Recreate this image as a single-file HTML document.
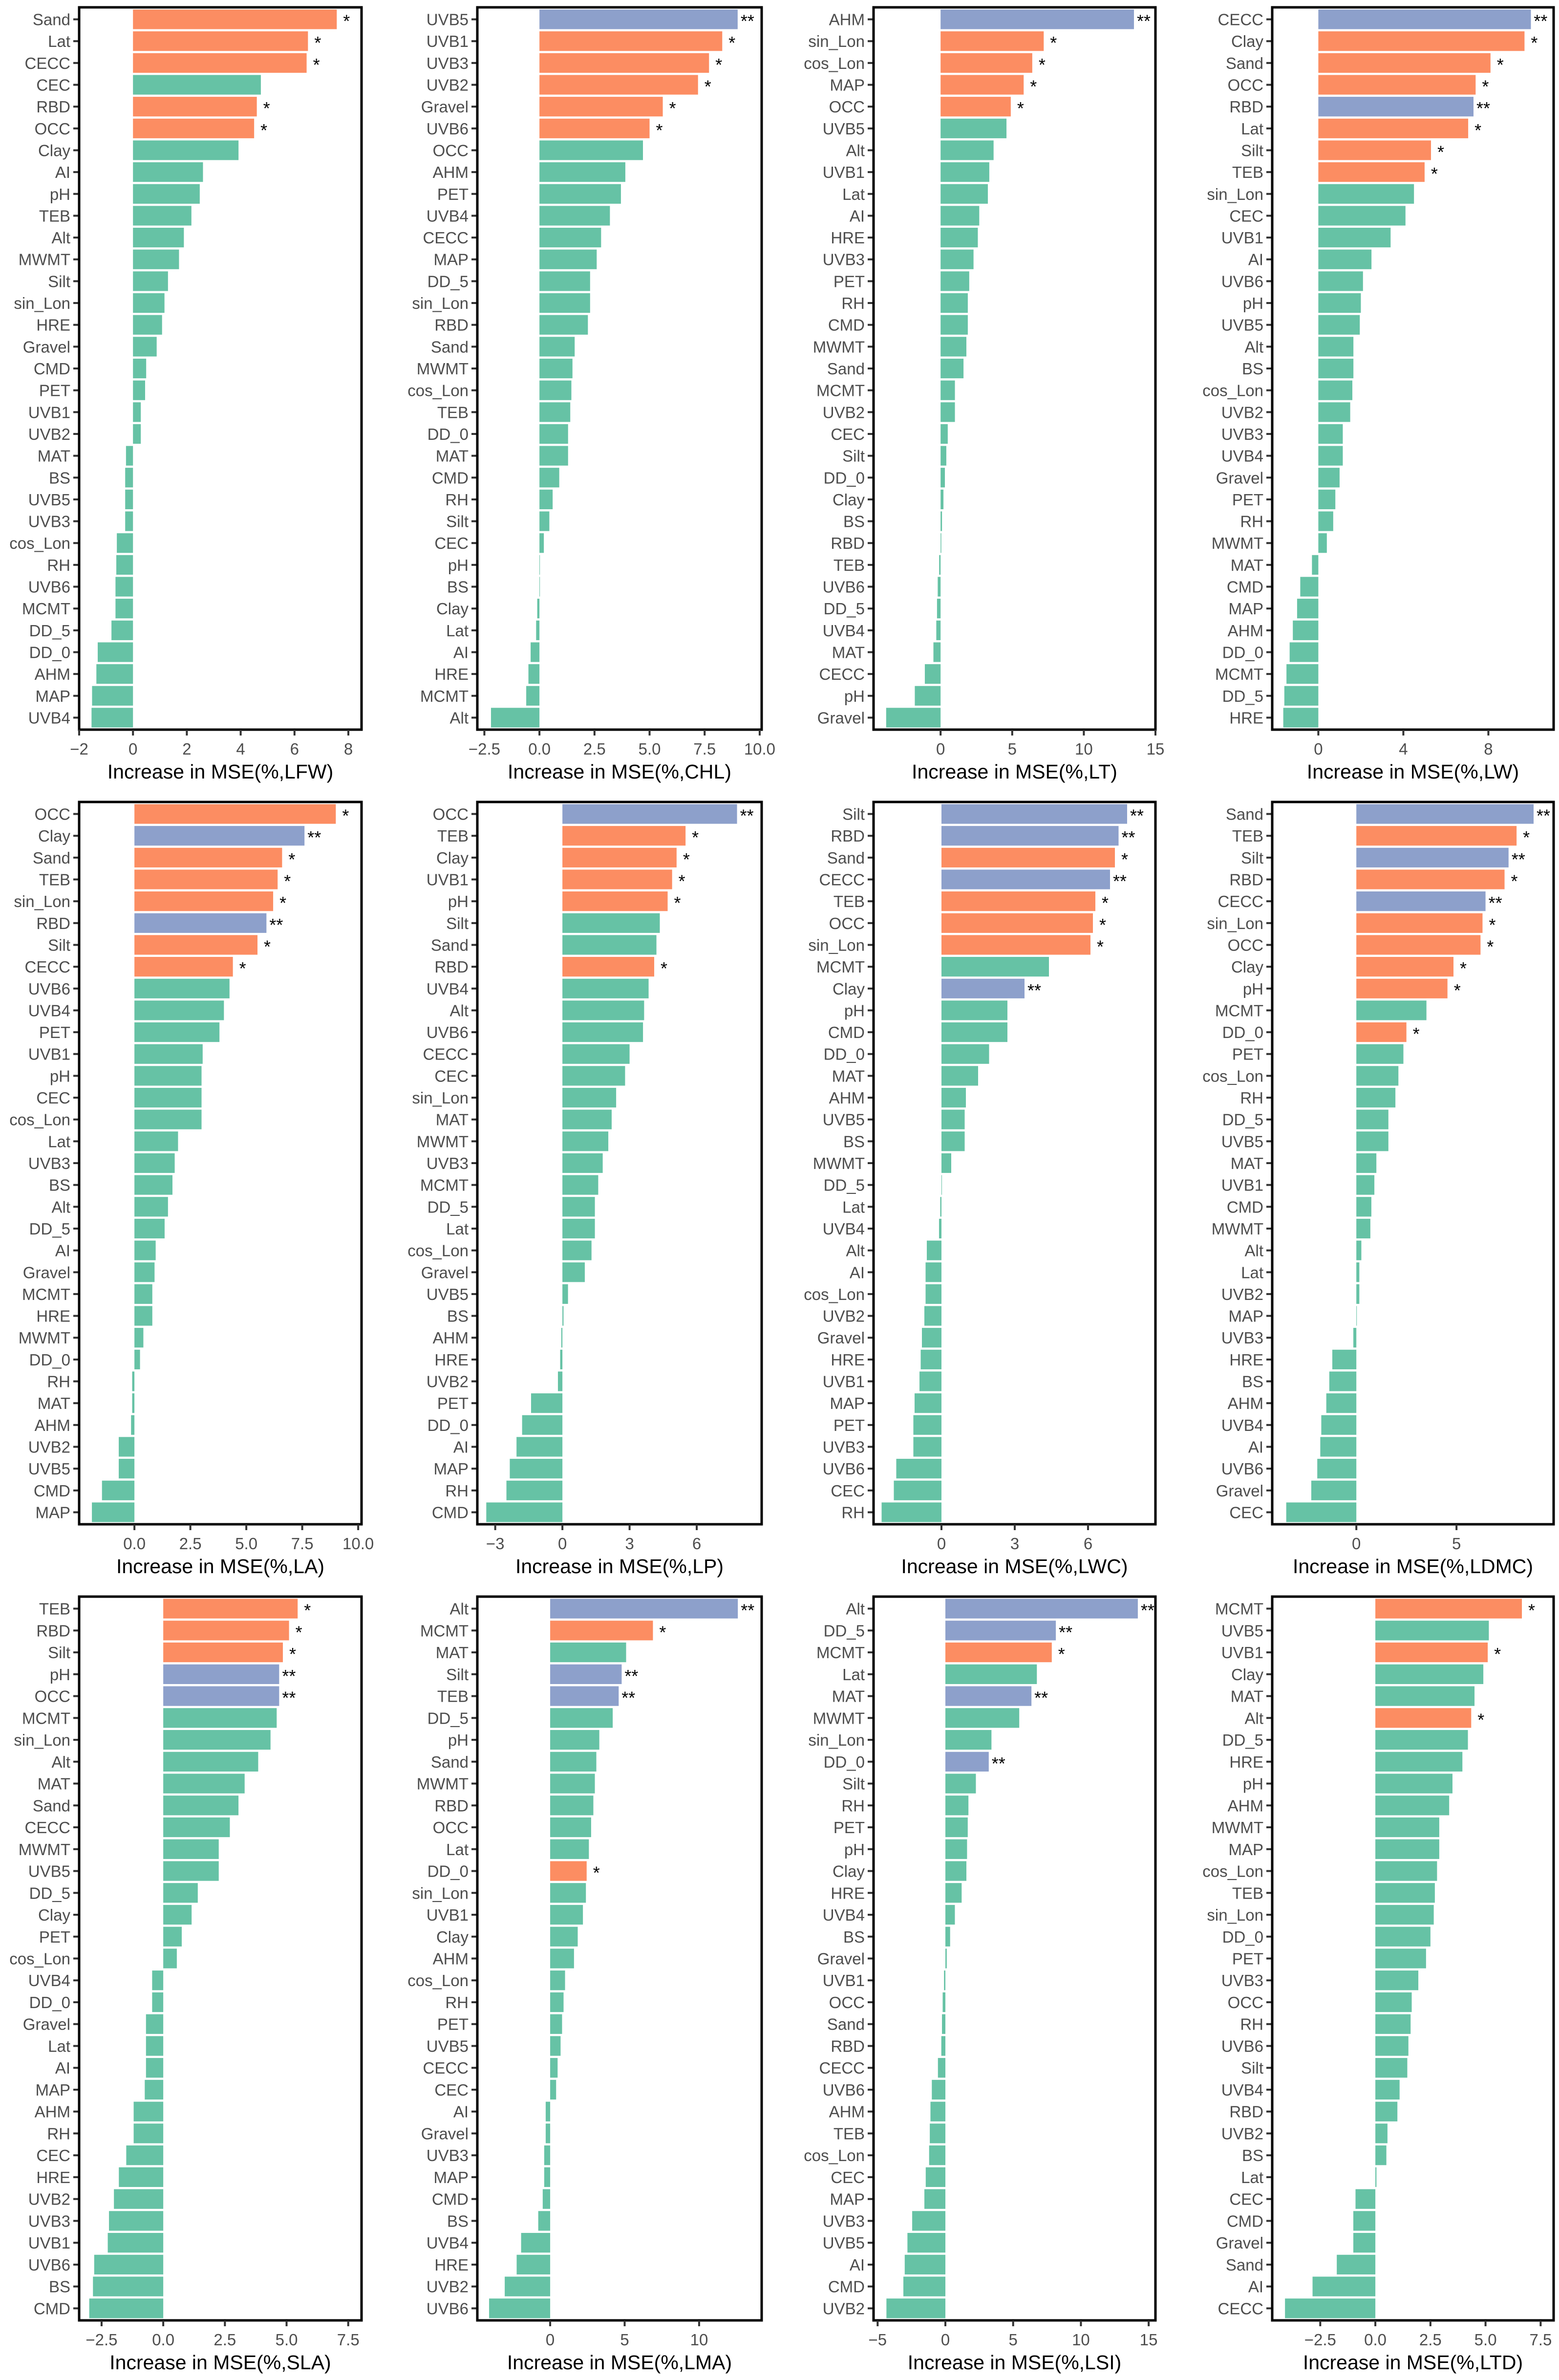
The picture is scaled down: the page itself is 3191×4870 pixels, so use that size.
<!DOCTYPE html>
<html><head><meta charset="utf-8">
<style>
html,body{margin:0;padding:0;background:#fff;}
svg{display:block;}
text{font-family:"Liberation Sans",Arial,sans-serif;}
</style></head>
<body>
<svg id="fig" width="3191" height="4870" viewBox="0 0 3191 4870" xmlns="http://www.w3.org/2000/svg"></svg>
<script>
const traits = ["LFW","CHL","LT","LW","LA","LP","LWC","LDMC","SLA","LMA","LSI","LTD"];

const namesLFW = ["Sand","Lat","CECC","CEC","RBD","OCC","Clay","AI","pH","TEB","Alt","MWMT","Silt","sin_Lon","HRE","Gravel","CMD","PET","UVB1","UVB2","MAT","BS","UVB5","UVB3","cos_Lon","RH","UVB6","MCMT","DD_5","DD_0","AHM","MAP","UVB4"];
const valsLFW = [7.57,6.5,6.45,4.75,4.6,4.5,3.92,2.6,2.48,2.17,1.89,1.71,1.3,1.17,1.08,0.88,0.49,0.45,0.29,0.29,-0.26,-0.29,-0.29,-0.29,-0.6,-0.62,-0.65,-0.65,-0.8,-1.31,-1.36,-1.52,-1.54];
const sigLFW = "111011000000000000000000000000000";

const namesCHL = ["UVB5","UVB1","UVB3","UVB2","Gravel","UVB6","OCC","AHM","PET","UVB4","CECC","MAP","DD_5","sin_Lon","RBD","Sand","MWMT","cos_Lon","TEB","DD_0","MAT","CMD","RH","Silt","CEC","pH","BS","Clay","Lat","AI","HRE","MCMT","Alt"];
const valsCHL = [9.0,8.3,7.7,7.2,5.6,5.0,4.7,3.9,3.7,3.2,2.8,2.6,2.3,2.3,2.2,1.6,1.5,1.45,1.4,1.3,1.3,0.9,0.6,0.45,0.2,0.02,0.0,-0.1,-0.15,-0.4,-0.5,-0.6,-2.2];
const sigCHL = "211111000000000000000000000000000";

const namesLT = ["AHM","sin_Lon","cos_Lon","MAP","OCC","UVB5","Alt","UVB1","Lat","AI","HRE","UVB3","PET","RH","CMD","MWMT","Sand","MCMT","UVB2","CEC","Silt","DD_0","Clay","BS","RBD","TEB","UVB6","DD_5","UVB4","MAT","CECC","pH","Gravel"];
const valsLT = [13.5,7.2,6.4,5.8,4.9,4.6,3.7,3.4,3.3,2.7,2.6,2.3,2.0,1.9,1.9,1.8,1.6,1.0,1.0,0.5,0.4,0.3,0.2,0.1,0.05,-0.1,-0.2,-0.25,-0.3,-0.5,-1.1,-1.8,-3.8];
const sigLT = "211110000000000000000000000000000";

const namesLW = ["CECC","Clay","Sand","OCC","RBD","Lat","Silt","TEB","sin_Lon","CEC","UVB1","AI","UVB6","pH","UVB5","Alt","BS","cos_Lon","UVB2","UVB3","UVB4","Gravel","PET","RH","MWMT","MAT","CMD","MAP","AHM","DD_0","MCMT","DD_5","HRE"];
const valsLW = [10.0,9.7,8.1,7.4,7.3,7.05,5.3,5.0,4.5,4.1,3.4,2.5,2.1,2.0,1.95,1.65,1.65,1.6,1.5,1.15,1.15,1.0,0.8,0.7,0.4,-0.3,-0.85,-1.0,-1.2,-1.35,-1.5,-1.6,-1.65];
const sigLW = "211121110000000000000000000000000";

const namesLA = ["OCC","Clay","Sand","TEB","sin_Lon","RBD","Silt","CECC","UVB6","UVB4","PET","UVB1","pH","CEC","cos_Lon","Lat","UVB3","BS","Alt","DD_5","AI","Gravel","MCMT","HRE","MWMT","DD_0","RH","MAT","AHM","UVB2","UVB5","CMD","MAP"];
const valsLA = [9.0,7.6,6.6,6.4,6.2,5.9,5.5,4.4,4.25,4.0,3.8,3.05,3.0,3.0,3.0,1.95,1.8,1.7,1.5,1.35,0.95,0.9,0.8,0.8,0.4,0.25,-0.1,-0.1,-0.15,-0.7,-0.7,-1.45,-1.9];
const sigLA = "121112110000000000000000000000000";

const namesLP = ["OCC","TEB","Clay","UVB1","pH","Silt","Sand","RBD","UVB4","Alt","UVB6","CECC","CEC","sin_Lon","MAT","MWMT","UVB3","MCMT","DD_5","Lat","cos_Lon","Gravel","UVB5","BS","AHM","HRE","UVB2","PET","DD_0","AI","MAP","RH","CMD"];
const valsLP = [7.8,5.5,5.1,4.9,4.7,4.35,4.2,4.1,3.85,3.65,3.6,3.0,2.8,2.4,2.2,2.05,1.8,1.6,1.45,1.45,1.3,1.0,0.25,0.05,-0.05,-0.1,-0.2,-1.4,-1.8,-2.05,-2.35,-2.5,-3.4];
const sigLP = "211110010000000000000000000000000";

const namesLWC = ["Silt","RBD","Sand","CECC","TEB","OCC","sin_Lon","MCMT","Clay","pH","CMD","DD_0","MAT","AHM","UVB5","BS","MWMT","DD_5","Lat","UVB4","Alt","AI","cos_Lon","UVB2","Gravel","HRE","UVB1","MAP","PET","UVB3","UVB6","CEC","RH"];
const valsLWC = [7.6,7.25,7.1,6.9,6.3,6.2,6.1,4.4,3.4,2.7,2.7,1.95,1.5,1.0,0.95,0.95,0.4,0.02,-0.05,-0.1,-0.6,-0.65,-0.65,-0.7,-0.8,-0.85,-0.9,-1.1,-1.15,-1.15,-1.85,-1.95,-2.45];
const sigLWC = "221211102000000000000000000000000";

const namesLDMC = ["Sand","TEB","Silt","RBD","CECC","sin_Lon","OCC","Clay","pH","MCMT","DD_0","PET","cos_Lon","RH","DD_5","UVB5","MAT","UVB1","CMD","MWMT","Alt","Lat","UVB2","MAP","UVB3","HRE","BS","AHM","UVB4","AI","UVB6","Gravel","CEC"];
const valsLDMC = [8.85,8.0,7.6,7.4,6.45,6.3,6.2,4.85,4.55,3.5,2.5,2.35,2.1,1.95,1.6,1.6,1.0,0.9,0.75,0.7,0.25,0.15,0.15,0.0,-0.15,-1.2,-1.35,-1.5,-1.75,-1.8,-1.95,-2.25,-3.5];
const sigLDMC = "212121111010000000000000000000000";

const namesSLA = ["TEB","RBD","Silt","pH","OCC","MCMT","sin_Lon","Alt","MAT","Sand","CECC","MWMT","UVB5","DD_5","Clay","PET","cos_Lon","UVB4","DD_0","Gravel","Lat","AI","MAP","AHM","RH","CEC","HRE","UVB2","UVB3","UVB1","UVB6","BS","CMD"];
const valsSLA = [5.45,5.1,4.85,4.7,4.7,4.6,4.35,3.85,3.3,3.05,2.7,2.25,2.25,1.4,1.15,0.75,0.55,-0.45,-0.45,-0.7,-0.7,-0.7,-0.75,-1.2,-1.2,-1.5,-1.8,-2.0,-2.2,-2.25,-2.8,-2.85,-3.0];
const sigSLA = "111220000000000000000000000000000";

const namesLMA = ["Alt","MCMT","MAT","Silt","TEB","DD_5","pH","Sand","MWMT","RBD","OCC","Lat","DD_0","sin_Lon","UVB1","Clay","AHM","cos_Lon","RH","PET","UVB5","CECC","CEC","AI","Gravel","UVB3","MAP","CMD","BS","UVB4","HRE","UVB2","UVB6"];
const valsLMA = [12.6,6.9,5.1,4.8,4.6,4.2,3.3,3.1,3.0,2.9,2.75,2.6,2.45,2.4,2.2,1.85,1.6,1.0,0.9,0.8,0.7,0.5,0.4,-0.3,-0.3,-0.4,-0.4,-0.5,-0.8,-1.95,-2.25,-3.05,-4.1];
const sigLMA = "210220000000100000000000000000000";

const namesLSI = ["Alt","DD_5","MCMT","Lat","MAT","MWMT","sin_Lon","DD_0","Silt","RH","PET","pH","Clay","HRE","UVB4","BS","Gravel","UVB1","OCC","Sand","RBD","CECC","UVB6","AHM","TEB","cos_Lon","CEC","MAP","UVB3","UVB5","AI","CMD","UVB2"];
const valsLSI = [14.2,8.15,7.85,6.75,6.35,5.45,3.4,3.2,2.25,1.7,1.65,1.6,1.55,1.2,0.7,0.35,0.1,-0.1,-0.2,-0.25,-0.3,-0.55,-1.0,-1.1,-1.15,-1.2,-1.45,-1.55,-2.45,-2.8,-3.0,-3.1,-4.35];
const sigLSI = "221020020000000000000000000000000";

const namesLTD = ["MCMT","UVB5","UVB1","Clay","MAT","Alt","DD_5","HRE","pH","AHM","MWMT","MAP","cos_Lon","TEB","sin_Lon","DD_0","PET","UVB3","OCC","RH","UVB6","Silt","UVB4","RBD","UVB2","BS","Lat","CEC","CMD","Gravel","Sand","AI","CECC"];
const valsLTD = [6.65,5.15,5.1,4.9,4.5,4.35,4.2,3.95,3.5,3.35,2.9,2.9,2.8,2.7,2.65,2.5,2.3,1.95,1.65,1.6,1.5,1.45,1.1,1.0,0.55,0.5,0.05,-0.9,-1.0,-1.0,-1.75,-2.85,-4.1];
const sigLTD = "101001000000000000000000000000000";

const domLFW=[-2.0,8.49], ticksLFW=["-2","0","2","4","6","8"];
const domCHL=[-2.82,10.09], ticksCHL=["-2.5","0.0","2.5","5.0","7.5","10.0"];
const domLT=[-4.68,15.0], ticksLT=["0","5","10","15"];
const domLW=[-2.17,11.07], ticksLW=["0","4","8"];
const domLA=[-2.47,10.15], ticksLA=["0.0","2.5","5.0","7.5","10.0"];
const domLP=[-3.8,8.9], ticksLP=["-3","0","3","6"];
const domLWC=[-2.78,8.76], ticksLWC=["0","3","6"];
const domLDMC=[-4.2,9.85], ticksLDMC=["0","5"];
const domSLA=[-3.41,8.04], ticksSLA=["-2.5","0.0","2.5","5.0","7.5"];
const domLMA=[-4.89,14.2], ticksLMA=["0","5","10"];
const domLSI=[-5.3,15.5], ticksLSI=["-5","0","5","10","15"];
const domLTD=[-4.68,8.09], ticksLTD=["-2.5","0.0","2.5","5.0","7.5"];

const panels = [
 [namesLFW,valsLFW,sigLFW,domLFW,ticksLFW],
 [namesCHL,valsCHL,sigCHL,domCHL,ticksCHL],
 [namesLT,valsLT,sigLT,domLT,ticksLT],
 [namesLW,valsLW,sigLW,domLW,ticksLW],
 [namesLA,valsLA,sigLA,domLA,ticksLA],
 [namesLP,valsLP,sigLP,domLP,ticksLP],
 [namesLWC,valsLWC,sigLWC,domLWC,ticksLWC],
 [namesLDMC,valsLDMC,sigLDMC,domLDMC,ticksLDMC],
 [namesSLA,valsSLA,sigSLA,domSLA,ticksSLA],
 [namesLMA,valsLMA,sigLMA,domLMA,ticksLMA],
 [namesLSI,valsLSI,sigLSI,domLSI,ticksLSI],
 [namesLTD,valsLTD,sigLTD,domLTD,ticksLTD]
];

const colL=[162,977,1788,2604], colR=[740,1559,2365,3180];
const rowT=[15,1641,3267], rowB=[1493,3119,4748];
const colors=["#66c2a5","#fc8d62","#8da0cb"];
const NS="http://www.w3.org/2000/svg";
const svg=document.getElementById("fig");
function mk(tag,attrs,parent){const e=document.createElementNS(NS,tag);for(const k in attrs)e.setAttribute(k,attrs[k]);(parent||svg).appendChild(e);return e;}

panels.forEach((p,i)=>{
  const [names,vals,sig,dom,ticks]=p;
  const trait=traits[i];
  const c=i%4, r=Math.floor(i/4);
  const L=colL[c],R=colR[c],T=rowT[r],B=rowB[r];
  const g=mk("g",{});
  
  
  const xs=v=>L+(v-dom[0])/(dom[1]-dom[0])*(R-L);
  const n=names.length;
  const step=(B-T)/(n+0.1);
  const ys=k=>T+0.55*step+k*step;
  const bw=step*0.9;
  names.forEach((nm,k)=>{
    const v=vals[k], s=+sig[k];
    const x0=xs(0), x1=xs(v);
    const rect=mk("rect",{x:Math.min(x0,x1),y:ys(k)-bw/2,width:Math.max(1,Math.abs(x1-x0)),height:bw,fill:colors[s]},g);
    
    
    mk("line",{x1:L-12,x2:L,y1:ys(k),y2:ys(k),stroke:"#333",'stroke-width':4},g);
    const t=mk("text",{x:L-18,y:ys(k)+12,'text-anchor':'end','font-size':33,fill:'#4d4d4d'},g);
    t.textContent=nm;
    
    
    if(s>0){
      const st=mk("text",{x:xs(v)+20,y:ys(k)+16,'text-anchor':'middle','font-size':36,fill:'#000'},g);
      st.textContent=s===2?"**":"*";
      
      
    }
  });
  const fr=mk("rect",{x:L,y:T,width:R-L,height:B-T,fill:'none',stroke:'#000','stroke-width':5},g);
  
  
  ticks.forEach(tl=>{
    const v=parseFloat(tl), x=xs(v);
    mk("line",{x1:x,x2:x,y1:B,y2:B+12,stroke:'#333','stroke-width':4},g);
    const t=mk("text",{x:x,y:B+51,'text-anchor':'middle','font-size':33,fill:'#4d4d4d'},g);
    t.textContent=tl.replace('-','\u2212');
    
    
  });
  const ttl=mk("text",{x:(L+R)/2,y:B+100,'text-anchor':'middle','font-size':41,fill:'#000'},g);
  ttl.textContent="Increase in MSE(%,"+trait+")";
  
  
});
</script>
</body></html>
